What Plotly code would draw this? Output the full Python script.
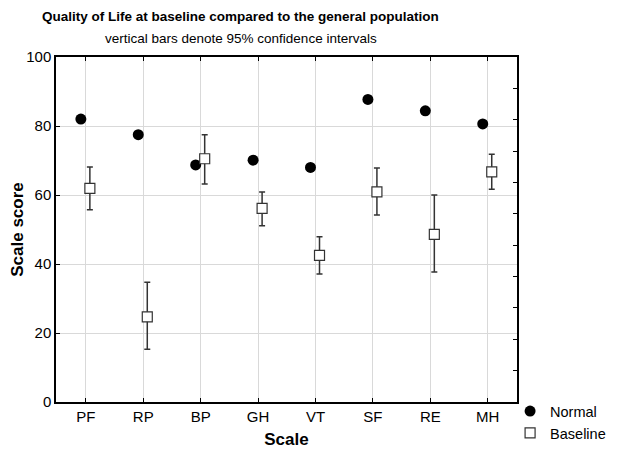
import plotly.graph_objects as go

categories = ["PF", "RP", "BP", "GH", "VT", "SF", "RE", "MH"]
normal = [82.0, 77.5, 68.7, 70.1, 68.0, 87.7, 84.4, 80.6]
baseline = [61.9, 24.7, 70.5, 56.1, 42.5, 60.9, 48.6, 66.7]
ci_upper = [68.1, 34.7, 77.5, 60.9, 47.9, 67.8, 60.0, 71.8]
ci_lower = [55.7, 15.3, 63.2, 51.1, 37.1, 54.2, 37.7, 61.7]

idx = list(range(len(categories)))
x_norm = [i - 0.087 for i in idx]
x_base = [i + 0.07 for i in idx]
err_plus = [u - m for u, m in zip(ci_upper, baseline)]
err_minus = [m - l for m, l in zip(baseline, ci_lower)]

font = "Liberation Sans, Arial, sans-serif"

fig = go.Figure()
fig.add_trace(go.Scatter(
    x=x_norm, y=normal, mode="markers", name="Normal",
    marker=dict(symbol="circle", size=11, color="black"),
))
fig.add_trace(go.Scatter(
    x=x_base, y=baseline, mode="markers", name="Baseline",
    marker=dict(symbol="square", size=10, color="white", line=dict(color="#333333", width=1.2)),
    error_y=dict(type="data", symmetric=False, array=err_plus, arrayminus=err_minus,
                 color="#333333", thickness=1.5, width=3),
))
fig.add_trace(go.Scatter(x=[None], y=[None], yaxis="y2", showlegend=False, hoverinfo="skip"))

# page body has an 8px margin, so the figure is sized to fit the remaining window
fig.update_layout(
    width=611, height=441,
    margin=dict(l=48, r=102, t=49, b=47, autoexpand=False),
    paper_bgcolor="white", plot_bgcolor="white",
    font=dict(family=font, size=15, color="black"),
    annotations=[
        dict(text="<b>Quality of Life at baseline compared to the general population</b>",
             xref="paper", yref="paper", x=0.401, y=1.116, xanchor="center", yanchor="middle",
             showarrow=False, font=dict(size=13.5)),
        dict(text="vertical bars denote 95% confidence intervals",
             xref="paper", yref="paper", x=0.401, y=1.055, xanchor="center", yanchor="middle",
             showarrow=False, font=dict(size=13.5)),
    ],
    xaxis=dict(
        range=[-0.52, 7.51], tickmode="array", tickvals=idx, ticktext=categories,
        showgrid=True, gridcolor="#d9d9d9", gridwidth=1,
        showline=True, linecolor="black", linewidth=1.5, mirror="ticks",
        ticks="inside", ticklen=4, tickcolor="black", zeroline=False, automargin=False,
        title=dict(text="<b>Scale</b>", font=dict(size=17), standoff=9),
        tickfont=dict(size=15),
    ),
    yaxis=dict(
        range=[0, 100], tickvals=[0, 20, 40, 60, 80, 100],
        showgrid=True, gridcolor="#d9d9d9", gridwidth=1,
        showline=True, linecolor="black", linewidth=1.5, mirror=True,
        ticks="inside", ticklen=4, tickcolor="black", zeroline=False, automargin=False,
        title=dict(text="<b>Scale score</b>", font=dict(size=17), standoff=0),
        tickfont=dict(size=15),
    ),
    yaxis2=dict(
        overlaying="y", side="right", range=[0, 11], dtick=1, tick0=0,
        showticklabels=False, showgrid=False, zeroline=False, automargin=False,
        ticks="inside", ticklen=4, tickcolor="black", showline=False,
    ),
    legend=dict(
        x=0.985, xanchor="left", y=0.02, yanchor="top",
        font=dict(size=14.5), bgcolor="rgba(0,0,0,0)",
        itemwidth=30, tracegroupgap=0,
    ),
    showlegend=True,
)

fig.write_html("out.html")
